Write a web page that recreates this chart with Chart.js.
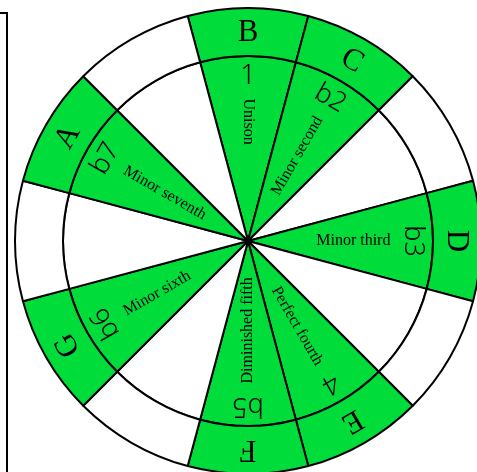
<!DOCTYPE html>
<html>
<head>
<meta charset="utf-8">
<script src="https://cdn.jsdelivr.net/npm/chart.js@4/dist/chart.umd.min.js"></script>
<style>
	html, body { margin: 0; padding: 0; background: #fff; overflow: hidden; }
	body { width: 477px; height: 472px; position: relative; }
	#frame { position: absolute; left: 0; top: 12px; width: 6px; height: 470px; border-top: 2px solid #000; border-right: 2px solid #000; }
	#wheel { position: absolute; left: 14px; top: 7px; }
</style>
</head>
<body>
<div id="frame"></div>
<canvas id="wheel" width="468" height="468"></canvas>
<script>
// chromatic circle, one slice per semitone, B on top
const notes = ['B', 'C', '', 'D', '', 'E', 'F', '', 'G', '', 'A', ''];
const intervalNumbers = ['1', 'b2', '', 'b3', '', '4', 'b5', '', 'b6', '', 'b7', ''];
const intervalNames = ['Unison', 'Minor second', '', 'Minor third', '', 'Perfect fourth', 'Diminished fifth', '', 'Minor sixth', '', 'Minor seventh', ''];
const inScale = [1, 1, 0, 1, 0, 1, 1, 0, 1, 0, 1, 0];
const sliceSize = [1, 1, 1, 1, 1, 1, 1, 1, 1, 1, 1, 1];

const green = '#00dd3a';
const fills = inScale.map(v => (v ? green : '#ffffff'));

const labelPlugin = {
	id: 'wheelLabels',
	afterDatasetsDraw(chart) {
		const ctx = chart.ctx;
		ctx.save();
		ctx.fillStyle = '#000';
		ctx.textBaseline = 'middle';

		// outer ring: note letters, tangential
		chart.getDatasetMeta(0).data.forEach((arc, i) => {
			if (!notes[i]) return;
			const p = arc.getProps(['x', 'y', 'startAngle', 'endAngle', 'innerRadius', 'outerRadius'], true);
			const a = (p.startAngle + p.endAngle) / 2;
			const r = (p.innerRadius + p.outerRadius) / 2;
			ctx.save();
			ctx.translate(p.x + Math.cos(a) * r, p.y + Math.sin(a) * r);
			ctx.rotate(a + Math.PI / 2);
			ctx.font = '31px "Liberation Serif", serif';
			ctx.textAlign = 'center';
			ctx.fillText(notes[i], 0, 1);
			ctx.restore();
		});

		// inner pie: interval number and name
		chart.getDatasetMeta(1).data.forEach((arc, i) => {
			if (!intervalNames[i]) return;
			const p = arc.getProps(['x', 'y', 'startAngle', 'endAngle', 'outerRadius'], true);
			const a = (p.startAngle + p.endAngle) / 2;
			const R = p.outerRadius;

			ctx.save();
			const rn = R * 0.89;
			ctx.translate(p.x + Math.cos(a) * rn, p.y + Math.sin(a) * rn);
			ctx.rotate(a + Math.PI / 2);
			ctx.font = '300 27px "Noto Sans", sans-serif';
			ctx.textAlign = 'center';
			ctx.fillText(intervalNumbers[i], 0, 0);
			ctx.restore();

			ctx.save();
			ctx.translate(p.x, p.y);
			ctx.font = '16px "Liberation Serif", serif';
			const edge = R * 0.77;
			if (Math.cos(a) > 1e-6) {
				ctx.rotate(a);
				ctx.textAlign = 'right';
				ctx.fillText(intervalNames[i], edge, 0);
			} else {
				ctx.rotate(a + Math.PI);
				ctx.textAlign = 'left';
				ctx.fillText(intervalNames[i], -edge, 0);
			}
			ctx.restore();
		});
		ctx.restore();
	}
};

new Chart(document.getElementById('wheel'), {
	type: 'doughnut',
	data: {
		labels: notes,
		datasets: [
			{ data: sliceSize, backgroundColor: fills, weight: 48 },
			{ data: sliceSize, backgroundColor: fills, weight: 185 },
		],
	},
	options: {
		responsive: false,
		animation: false,
		cutout: 0,
		rotation: -15,
		borderColor: '#000',
		borderWidth: 2,
		elements: { arc: { borderColor: '#000', borderWidth: 2 } },
		layout: { padding: 0 },
		plugins: {
			legend: { display: false },
			tooltip: { enabled: false },
		},
	},
	plugins: [labelPlugin],
});
</script>
</body>
</html>
